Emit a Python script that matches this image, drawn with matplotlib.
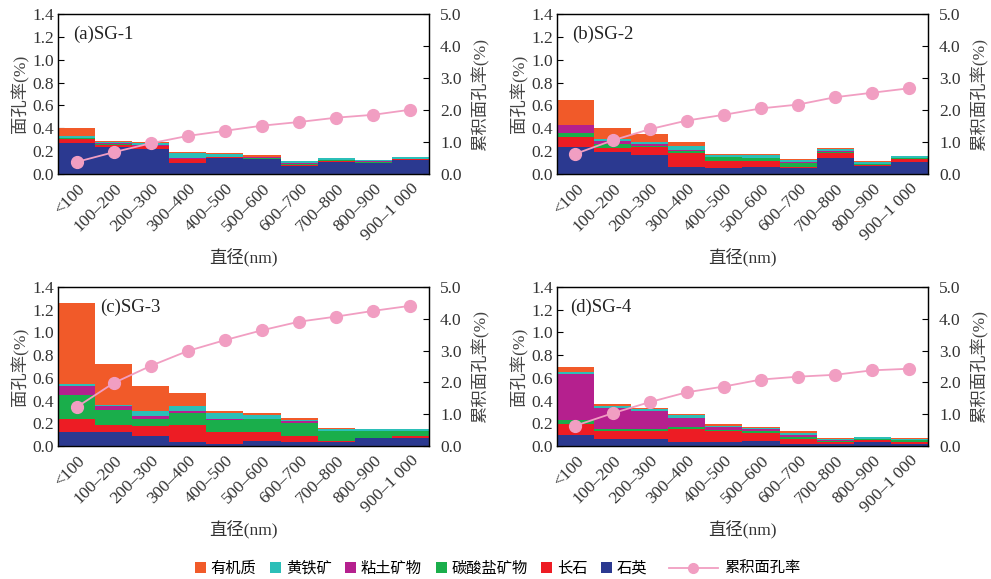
import matplotlib
matplotlib.use("Agg")
import matplotlib.pyplot as plt
from matplotlib.patches import Patch
from matplotlib.lines import Line2D
import numpy as np

plt.rcParams['font.family'] = ['Liberation Serif', 'Noto Sans CJK SC']
plt.rcParams['axes.unicode_minus'] = False

bins = ['<100', '100–200', '200–300', '300–400', '400–500',
        '500–600', '600–700', '700–800', '800–900', '900–1 000']

# area porosity (%) by mineral, bottom -> top of each stack
# SG-1
sg1_quartz    = [0.275, 0.240, 0.222, 0.093, 0.137, 0.128, 0.073, 0.108, 0.093, 0.120]
sg1_feldspar  = [0.028, 0.015, 0.020, 0.035, 0.008, 0.004, 0.008, 0.010, 0.003, 0.008]
sg1_carbonate = [0.010, 0.005, 0.005, 0.005, 0.003, 0.010, 0.010, 0.003, 0.012, 0.003]
sg1_clay      = [0.005, 0.008, 0.003, 0.003, 0.002, 0.003, 0.003, 0.005, 0.002, 0.002]
sg1_pyrite    = [0.017, 0.008, 0.020, 0.045, 0.028, 0.008, 0.018, 0.010, 0.013, 0.016]
sg1_organic   = [0.070, 0.013, 0.008, 0.008, 0.007, 0.010, 0.004, 0.004, 0.002, 0.002]
sg1_cum       = [0.375, 0.68, 0.96, 1.19, 1.35, 1.51, 1.625, 1.76, 1.85, 2.01]

# SG-2
sg2_quartz    = [0.235, 0.190, 0.167, 0.064, 0.050, 0.064, 0.050, 0.140, 0.067, 0.103]
sg2_feldspar  = [0.087, 0.041, 0.067, 0.121, 0.067, 0.053, 0.015, 0.042, 0.009, 0.026]
sg2_carbonate = [0.038, 0.033, 0.015, 0.012, 0.029, 0.020, 0.035, 0.010, 0.008, 0.012]
sg2_clay      = [0.065, 0.023, 0.015, 0.013, 0.003, 0.003, 0.003, 0.013, 0.003, 0.002]
sg2_pyrite    = [0.005, 0.018, 0.020, 0.036, 0.015, 0.030, 0.023, 0.018, 0.020, 0.016]
sg2_organic   = [0.217, 0.096, 0.065, 0.038, 0.007, 0.008, 0.006, 0.008, 0.004, 0.002]
sg2_cum       = [0.63, 1.05, 1.40, 1.67, 1.85, 2.05, 2.17, 2.40, 2.54, 2.68]

# SG-3
sg3_quartz    = [0.125, 0.124, 0.085, 0.035, 0.020, 0.047, 0.035, 0.038, 0.068, 0.074]
sg3_feldspar  = [0.115, 0.065, 0.095, 0.154, 0.104, 0.077, 0.053, 0.009, 0.006, 0.014]
sg3_carbonate = [0.210, 0.132, 0.062, 0.106, 0.109, 0.112, 0.115, 0.086, 0.059, 0.045]
sg3_clay      = [0.080, 0.027, 0.026, 0.014, 0.009, 0.006, 0.015, 0.003, 0.002, 0.002]
sg3_pyrite    = [0.015, 0.012, 0.039, 0.039, 0.050, 0.029, 0.015, 0.017, 0.013, 0.013]
sg3_organic   = [0.710, 0.362, 0.221, 0.115, 0.012, 0.024, 0.015, 0.003, 0.002, 0.002]
sg3_cum       = [1.22, 1.98, 2.52, 2.99, 3.33, 3.64, 3.91, 4.07, 4.25, 4.41]

# SG-4
sg4_quartz    = [0.100, 0.062, 0.062, 0.038, 0.038, 0.047, 0.020, 0.020, 0.035, 0.015]
sg4_feldspar  = [0.092, 0.068, 0.068, 0.112, 0.092, 0.068, 0.042, 0.015, 0.015, 0.020]
sg4_carbonate = [0.041, 0.023, 0.023, 0.018, 0.014, 0.015, 0.018, 0.012, 0.009, 0.015]
sg4_clay      = [0.398, 0.183, 0.156, 0.077, 0.024, 0.017, 0.020, 0.002, 0.002, 0.002]
sg4_pyrite    = [0.017, 0.015, 0.018, 0.029, 0.012, 0.012, 0.015, 0.015, 0.019, 0.012]
sg4_organic   = [0.050, 0.023, 0.009, 0.009, 0.012, 0.009, 0.015, 0.004, 0.001, 0.004]
sg4_cum       = [0.64, 1.03, 1.38, 1.69, 1.87, 2.09, 2.18, 2.24, 2.38, 2.43]

minerals = ['石英', '长石', '碳酸盐矿物', '粘土矿物', '黄铁矿', '有机质']
colors = ['#2b3990', '#ed1c24', '#1aae4b', '#b5208e', '#2bbfb8', '#f15a29']
line_color = '#f19ec2'

samples = [
    ('(a)SG-1', [sg1_quartz, sg1_feldspar, sg1_carbonate, sg1_clay, sg1_pyrite, sg1_organic], sg1_cum),
    ('(b)SG-2', [sg2_quartz, sg2_feldspar, sg2_carbonate, sg2_clay, sg2_pyrite, sg2_organic], sg2_cum),
    ('(c)SG-3', [sg3_quartz, sg3_feldspar, sg3_carbonate, sg3_clay, sg3_pyrite, sg3_organic], sg3_cum),
    ('(d)SG-4', [sg4_quartz, sg4_feldspar, sg4_carbonate, sg4_clay, sg4_pyrite, sg4_organic], sg4_cum),
]

fig = plt.figure(figsize=(9.91, 5.79), dpi=100)
positions = [
    [0.0585, 0.6995, 0.3744, 0.2763],
    [0.5620, 0.6995, 0.3744, 0.2763],
    [0.0585, 0.2297, 0.3744, 0.2746],
    [0.5620, 0.2297, 0.3744, 0.2746],
]
title_x = [0.04, 0.04, 0.113, 0.035]

x = np.arange(len(bins))
fs = 12.5
txt = '#333333'
for pos, tx, (title, layers, cum) in zip(positions, title_x, samples):
    ax = fig.add_axes(pos)
    bottom = np.zeros(len(bins))
    for vals, c in zip(layers, colors):
        ax.bar(x, vals, width=1.0, bottom=bottom, color=c, edgecolor='none', zorder=2)
        bottom += np.array(vals)
    ax.set_xlim(-0.5, len(bins) - 0.5)
    ax.set_ylim(0, 1.4)
    ax.set_yticks(np.arange(0, 1.41, 0.2))
    ax.set_yticklabels([f'{v:.1f}' for v in np.arange(0, 1.41, 0.2)], fontsize=fs, color=txt)
    ax.set_xticks(x)
    ax.set_xticklabels(bins, rotation=45, ha='right', rotation_mode='anchor',
                       fontsize=fs, color=txt)
    ax.tick_params(axis='y', direction='in', length=4, pad=3)
    ax.tick_params(axis='x', length=0, pad=5)
    ax.set_ylabel('面孔率(%)', fontsize=fs, labelpad=2, color='#444444')
    ax.set_xlabel('直径(nm)', fontsize=fs, labelpad=3, color=txt)
    ax.text(tx, 0.87, title, transform=ax.transAxes, fontsize=13.5, va='center',
            color='#222222', zorder=5)
    for sp in ax.spines.values():
        sp.set_linewidth(1.0)
        sp.set_color('#222222')

    ax2 = ax.twinx()
    ax2.plot(x, cum, color=line_color, lw=1.3, marker='o', ms=8.5,
             markerfacecolor=line_color, markeredgecolor=line_color, zorder=4)
    ax2.set_ylim(0, 5.0)
    ax2.set_yticks(np.arange(0, 5.01, 1.0))
    ax2.set_yticklabels([f'{v:.1f}' for v in np.arange(0, 5.01, 1.0)], fontsize=fs, color=txt)
    ax2.tick_params(axis='y', direction='in', length=4, pad=8)
    ax2.set_ylabel('累积面孔率(%)', fontsize=fs, labelpad=7, color='#444444')

# legend: square swatches for minerals, then a separate long-line entry
leg_y = 0.0175
patch_handles = [Patch(facecolor=c, edgecolor='none') for c in colors[::-1]]
leg1 = fig.legend(patch_handles, minerals[::-1], loc='center left',
                  bbox_to_anchor=(0.197, leg_y), ncol=6, frameon=False, fontsize=11,
                  handlelength=0.72, handleheight=0.72, handletextpad=0.3,
                  columnspacing=0.9, borderpad=0, borderaxespad=0)
line_handle = Line2D([0], [0], color=line_color, lw=1.3, marker='o', ms=7)
fig.legend([line_handle], ['累积面孔率'], loc='center left',
           bbox_to_anchor=(0.675, leg_y), frameon=False, fontsize=11,
           handlelength=3.2, handletextpad=0.4, borderpad=0, borderaxespad=0)

fig.savefig('out.png', dpi=100)
